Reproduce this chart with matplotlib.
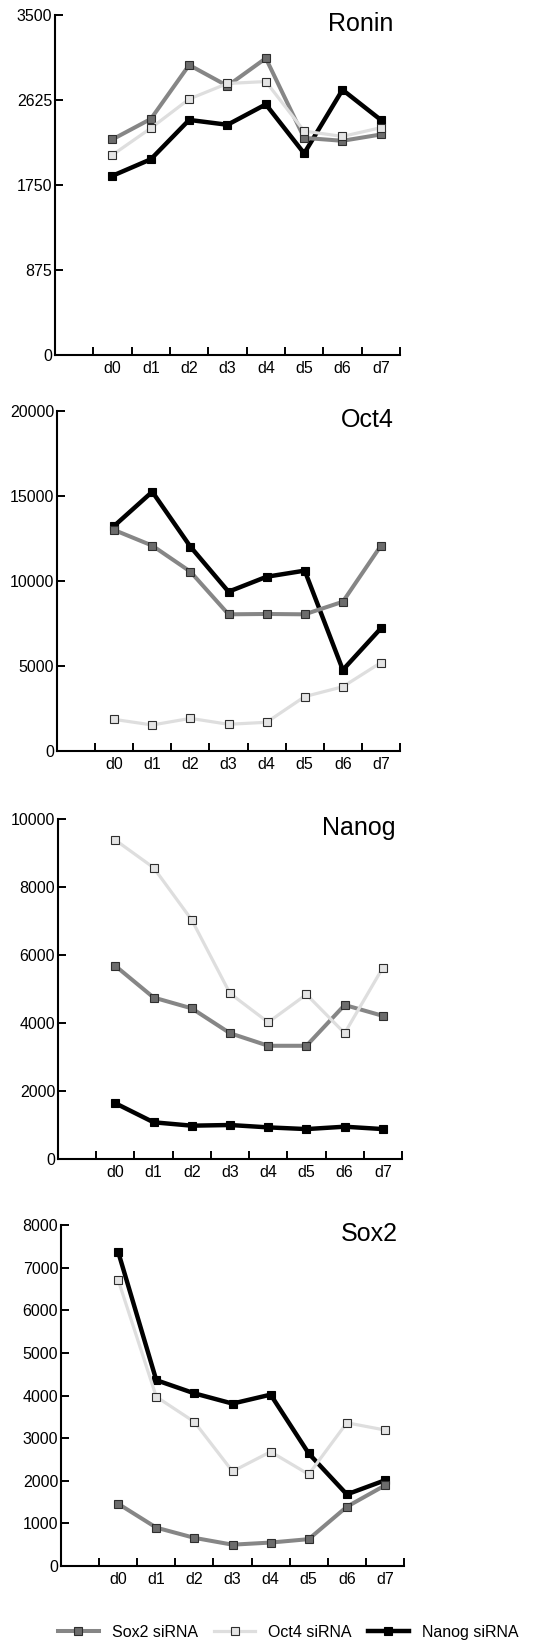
import numpy as np
import matplotlib
matplotlib.use("Agg")
import matplotlib.pyplot as plt

plt.rcParams['font.family'] = ['Liberation Sans', 'DejaVu Sans']

DAYS = ["d0", "d1", "d2", "d3", "d4", "d5", "d6", "d7"]
SERIES = ["Sox2 siRNA", "Oct4 siRNA", "Nanog siRNA"]

# values, one list per series and gene
ronin_sox2 = [2220, 2430, 2985, 2770, 3055, 2235, 2205, 2270]
ronin_oct4 = [2060, 2335, 2635, 2795, 2815, 2305, 2250, 2340]
ronin_nanog = [1845, 2015, 2420, 2370, 2580, 2075, 2730, 2420]

oct4_sox2 = [13000, 12080, 10550, 8040, 8060, 8040, 8780, 12080]
oct4_oct4 = [1860, 1530, 1920, 1570, 1690, 3200, 3780, 5200]
oct4_nanog = [13240, 15250, 12020, 9370, 10250, 10610, 4770, 7220]

nanog_sox2 = [5680, 4750, 4430, 3700, 3330, 3330, 4530, 4210]
nanog_oct4 = [9380, 8570, 7030, 4870, 4020, 4840, 3700, 5630]
nanog_nanog = [1640, 1080, 980, 1000, 930, 880, 950, 880]

sox2_sox2 = [1460, 900, 660, 500, 550, 630, 1390, 1890]
sox2_oct4 = [6710, 3970, 3380, 2220, 2680, 2150, 3360, 3190]
sox2_nanog = [7370, 4360, 4050, 3810, 4020, 2640, 1680, 2010]

PANELS = [
    ("Ronin", ronin_sox2, ronin_oct4, ronin_nanog, [0, 875, 1750, 2625, 3500]),
    ("Oct4", oct4_sox2, oct4_oct4, oct4_nanog, [0, 5000, 10000, 15000, 20000]),
    ("Nanog", nanog_sox2, nanog_oct4, nanog_nanog, [0, 2000, 4000, 6000, 8000, 10000]),
    ("Sox2", sox2_sox2, sox2_oct4, sox2_nanog, [0, 1000, 2000, 3000, 4000, 5000, 6000, 7000, 8000]),
]

# axes boxes in pixels: left, right, top, bottom
BOXES = [(55, 400, 15, 355), (57, 400, 411, 751), (58, 402, 819, 1159), (61, 404, 1225, 1566)]

W, H = 554, 1644
STYLES = [
    dict(color='#868686', lw=2.9, marker='s', ms=5.2, mfc='#6c6c6c', mec='#2e2e2e', mew=0.8),
    dict(color='#dedede', lw=2.3, marker='s', ms=5.2, mfc='#e4e4e4', mec='#2e2e2e', mew=0.8),
    dict(color='#000000', lw=3.2, marker='s', ms=5.6, mfc='#000000', mec='#000000', mew=0.8),
]

fig = plt.figure(figsize=(W / 100, H / 100), dpi=100)
x = np.arange(1, len(DAYS) + 1)
handles = []
for (title, s1, s2, s3, yticks), (l, r, t, b) in zip(PANELS, BOXES):
    ax = fig.add_axes([l / W, (H - b) / H, (r - l) / W, (b - t) / H])
    hs = []
    for vals, st, z in zip((s1, s2, s3), STYLES, (3, 4, 2)):
        h, = ax.plot(x, vals, zorder=z, solid_joinstyle='miter', **st)
        hs.append(h)
    handles = hs
    ax.set_xlim(0.5 - 1, len(DAYS) + 0.5)
    ax.set_ylim(0, yticks[-1])
    ax.set_yticks(yticks)
    ax.set_yticklabels([str(v) for v in yticks])
    ax.set_xticks(np.arange(0.5, len(DAYS) + 1, 1.0))
    ax.set_xticklabels([])
    ax.set_xticks(x, minor=True)
    ax.set_xticklabels(DAYS, minor=True)
    ax.tick_params(axis='x', which='major', direction='in', length=6, width=1.4)
    ax.tick_params(axis='x', which='minor', length=0, pad=4, labelsize=11.5)
    ax.tick_params(axis='y', direction='in', length=6, width=1.4, pad=2, labelsize=11.5)
    for side in ('top', 'right'):
        ax.spines[side].set_visible(False)
    for side in ('left', 'bottom'):
        ax.spines[side].set_linewidth(1.5)
    ax.spines['left'].set_zorder(5)
    ax.text(0.982, 0.974, title, transform=ax.transAxes, ha='right', va='center', fontsize=18)

fig.legend(handles, SERIES, loc='center', bbox_to_anchor=(0.52, (H - 1632) / H), ncol=3,
           frameon=False, fontsize=11.5, handlelength=2.6, handletextpad=0.8,
           columnspacing=1.0, borderpad=0)

fig.savefig("out.png", dpi=100)
